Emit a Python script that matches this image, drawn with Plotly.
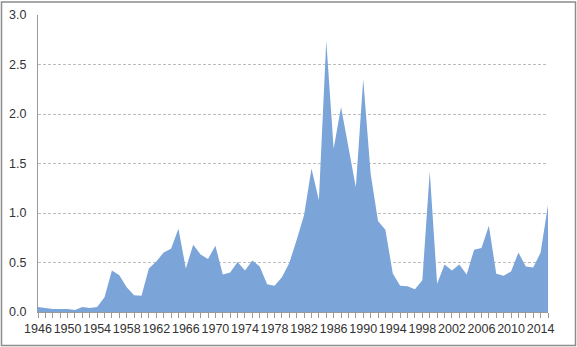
import plotly.graph_objects as go

years = list(range(1946, 2016))
values = [
    0.05, 0.04, 0.03, 0.03, 0.03, 0.02, 0.05, 0.04, 0.05, 0.15,
    0.42, 0.37, 0.25, 0.17, 0.165, 0.44, 0.51, 0.60, 0.64, 0.84,
    0.44, 0.68, 0.58, 0.535, 0.67, 0.38, 0.40, 0.505, 0.42, 0.52,
    0.46, 0.28, 0.265, 0.35, 0.495, 0.73, 0.98, 1.45, 1.13, 2.74,
    1.65, 2.07, 1.67, 1.26, 2.35, 1.40, 0.92, 0.83, 0.39, 0.265,
    0.26, 0.23, 0.32, 1.42, 0.285, 0.48, 0.42, 0.48, 0.38, 0.63,
    0.646, 0.87, 0.387, 0.367, 0.41, 0.60, 0.46, 0.45, 0.60, 1.08,
]
label_years = list(range(1946, 2015, 4))
y_ticks = [0.0, 0.5, 1.0, 1.5, 2.0, 2.5, 3.0]

W, H = 577, 347
ml, mr, mt, mb = 38, 29, 15, 35
pw, ph = W - ml - mr, H - mt - mb

fig = go.Figure()
fig.add_trace(go.Scatter(
    x=years, y=values, mode="lines", fill="tozeroy",
    line=dict(width=0, color="#7BA4D9"), fillcolor="#7BA4D9",
    hoverinfo="x+y", showlegend=False,
))

font = dict(family="Liberation Sans, Arial, sans-serif", size=12.5, color="#333333")

fig.update_layout(
    width=W, height=H,
    margin=dict(l=ml, r=mr, t=mt, b=mb, pad=0, autoexpand=False),
    paper_bgcolor="white", plot_bgcolor="white",
    font=font,
    xaxis=dict(
        range=[1946, 2015], tickvals=label_years,
        ticktext=[str(y) for y in label_years], tickangle=0,
        ticks="outside", ticklen=5, tickcolor="#9a9a9a", tickwidth=1,
        minor=dict(dtick=1, tick0=1946, ticks="outside", ticklen=5,
                   tickcolor="#9a9a9a", showgrid=False),
        showgrid=False, showline=True, linecolor="#9a9a9a", linewidth=1,
        zeroline=False, tickfont=font, automargin=False,
    ),
    yaxis=dict(
        range=[0, 3.0], tickvals=y_ticks, tickformat=".1f",
        showgrid=True, gridcolor="#bdbdbd", griddash="3px,2px", gridwidth=1,
        showline=True, linecolor="#9a9a9a", linewidth=1,
        zeroline=False, ticks="", ticklabelstandoff=8, tickfont=font,
        automargin=False,
    ),
    shapes=[dict(
        type="rect", xref="paper", yref="paper",
        x0=(1.5 - ml) / pw, x1=(W - 1.5 - ml) / pw,
        y0=(H - mb - (H - 1.5)) / ph, y1=(H - mb - 2) / ph,
        line=dict(color="#8c8c8c", width=1.5), fillcolor="rgba(0,0,0,0)",
        layer="above",
    )],
)

fig.write_html(
    "out.html",
    config={"displayModeBar": False},
    post_script="document.body.style.margin='0';document.body.style.overflow='hidden';",
)
